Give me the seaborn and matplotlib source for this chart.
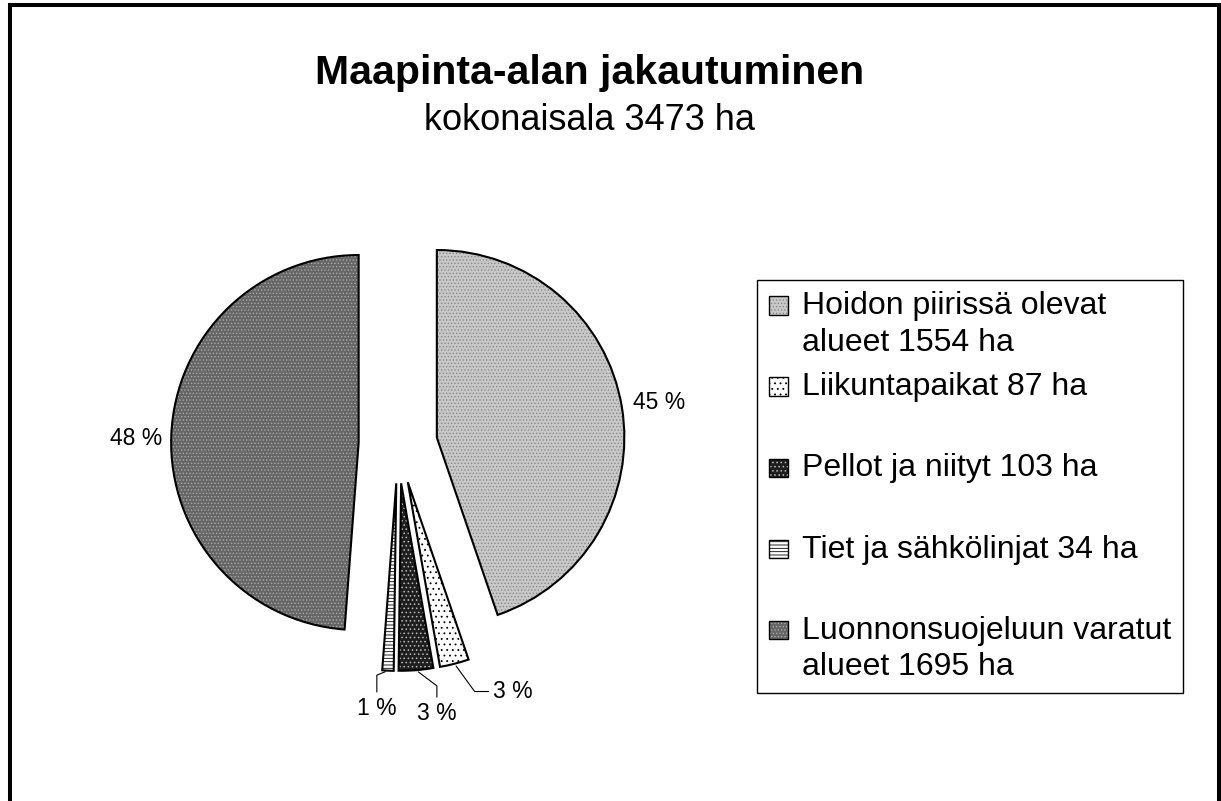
import textwrap
import numpy as np
import matplotlib
matplotlib.use("Agg")
import matplotlib.pyplot as plt
import seaborn as sns
from matplotlib.patches import Patch, Rectangle
from matplotlib.legend_handler import HandlerBase

# data
categories = ["Hoidon piirissä olevat alueet", "Liikuntapaikat", "Pellot ja niityt",
              "Tiet ja sähkölinjat", "Luonnonsuojeluun varatut alueet"]
areas_ha = [1554, 87, 103, 34, 1695]
pct_labels = ["45 %", "3 %", "3 %", "1 %", "48 %"]

title = "Maapinta-alan jakautuminen"
subtitle = f"kokonaisala {sum(areas_ha)} ha"

sns.set_style("white")
plt.rcParams['font.family'] = ['Liberation Sans', 'DejaVu Sans']
plt.rcParams['text.color'] = 'black'
plt.rcParams['hatch.linewidth'] = 0.6

# grey pattern fills, like the old Excel print patterns
fills = ['#c8c8c8', '#ffffff', '#1e1e1e', '#ffffff', '#666666']
hatch_cols = ['#8a8a8a', '#000000', '#bdbdbd', '#000000', '#a8a8a8']
hatches = ['.....', '...', '....', '-----', '.....']


class FirstLineSquare(HandlerBase):
    # small square aligned with the first text line of a two-line entry
    def create_artists(self, legend, orig_handle, xdescent, ydescent,
                       width, height, fontsize, trans):
        side = 0.58 * fontsize
        lift = 0.6 * fontsize
        x0 = -xdescent + (width - side) / 2
        y0 = -ydescent + (height - side) / 2 + lift
        fill = Rectangle((x0, y0), side, side, facecolor=orig_handle.get_facecolor(),
                         edgecolor=orig_handle.get_edgecolor(), hatch=orig_handle.get_hatch(),
                         linewidth=0, transform=trans)
        box = Rectangle((x0, y0), side, side, fill=False, edgecolor='black',
                        linewidth=1.0, transform=trans)
        return [fill, box]


fig = plt.figure(figsize=(12.21, 8.01), dpi=100)
ax = fig.add_axes([98 / 1221, 57 / 801, 600 / 1221, 600 / 801])

explode = [0.21] * len(areas_ha)
wedges, _ = ax.pie(areas_ha, explode=explode, startangle=90, counterclock=False,
                   colors=fills, wedgeprops=dict(linewidth=0))
for w, hc, h in zip(wedges, hatch_cols, hatches):
    w.set_edgecolor(hc)
    w.set_hatch(h)
ax.pie(areas_ha, explode=explode, startangle=90, counterclock=False,
       wedgeprops=dict(fill=False, edgecolor='black', linewidth=1.5))
ax.set_xlim(-1.6, 1.6)
ax.set_ylim(-1.6, 1.6)
ax.set_aspect('equal')
ax.axis('off')

# percentage labels, small slices get leader lines
label_offsets = [(27, 3), (28, -20), (15, -31), (-8, -27), (-25, -2)]
label_ha = ['center', 'left', 'center', 'center', 'center']
leaders = [None, 'angle,angleA=0,angleB=-54', 'angle,angleA=90,angleB=-37',
           'angle,angleA=90,angleB=22', None]
for w, txt, off, ha, cs in zip(wedges, pct_labels, label_offsets, label_ha, leaders):
    ang = np.deg2rad((w.theta1 + w.theta2) / 2)
    cx, cy = w.center
    tip = (cx + w.r * np.cos(ang), cy + w.r * np.sin(ang))
    arrow = None
    if cs is not None:
        arrow = dict(arrowstyle='-', color='black', lw=0.8, connectionstyle=cs,
                     shrinkA=1, shrinkB=2)
    ax.annotate(txt, xy=tip, xytext=off, textcoords='offset points', ha=ha, va='center',
                fontsize=16.5, arrowprops=arrow)

fig.text(590 / 1221, 1 - 84 / 801, title, ha='center', va='baseline',
         fontsize=29.5, fontweight='bold')
fig.text(590 / 1221, 1 - 130 / 801, subtitle, ha='center', va='baseline', fontsize=26)

handles = [Patch(facecolor=f, edgecolor=hc, hatch=h) for f, hc, h in zip(fills, hatch_cols, hatches)]
labels = []
for c, a in zip(categories, areas_ha):
    lines = textwrap.wrap(f"{c} {a} ha", width=25)
    labels.append("\n".join(lines + [""] * (2 - len(lines))))

leg = fig.legend(handles, labels, loc='upper left', bbox_to_anchor=(757 / 1221, 1 - 280 / 801),
                 bbox_transform=fig.transFigure, borderaxespad=0, fontsize=23,
                 frameon=True, fancybox=False, edgecolor='black', framealpha=1,
                 borderpad=0.35, labelspacing=0.46, handlelength=0.65, handleheight=0.7,
                 handletextpad=0.42, handler_map={Patch: FirstLineSquare()})
for t in leg.get_texts():
    t.set_linespacing(1.28)
leg.get_frame().set_linewidth(1.0)

# outer frame, open at the bottom like the cropped original
fig.add_artist(Rectangle((9.5 / 1221, -0.1), (1219 - 9.5) / 1221, 1.1 - 5.5 / 801,
                         transform=fig.transFigure, fill=False, edgecolor='black',
                         linewidth=2.9))

fig.savefig("out.png", dpi=100)
